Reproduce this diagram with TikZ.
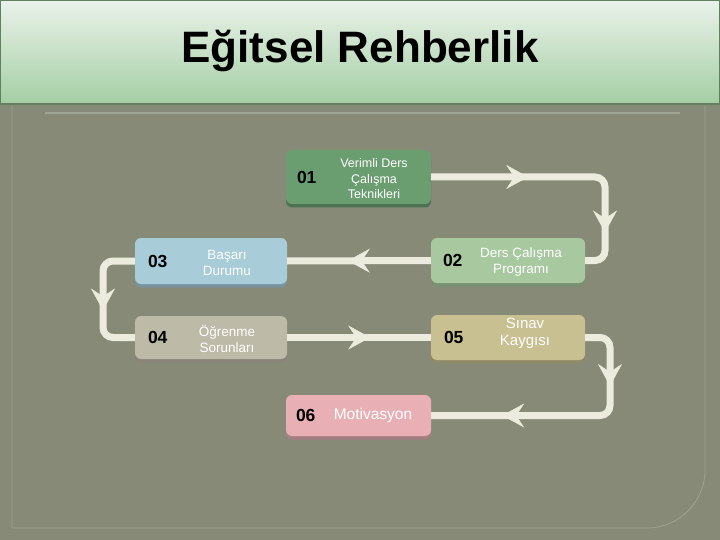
\documentclass[tikz,border=0pt]{standalone}
\usepackage{fontspec}
\setmainfont{Liberation Sans}
\usetikzlibrary{arrows.meta,positioning,shadows,decorations.markings}
\definecolor{slateolive}{RGB}{135,138,118}
\definecolor{frameline}{RGB}{158,163,146}
\definecolor{bandtop}{RGB}{234,242,234}
\definecolor{bandbot}{RGB}{164,206,164}
\definecolor{bandedge}{RGB}{96,128,96}
\definecolor{pathcream}{RGB}{236,236,222}
\definecolor{tilegreen}{RGB}{106,158,112}
\definecolor{tilemint}{RGB}{168,200,160}
\definecolor{tileblue}{RGB}{168,204,216}
\definecolor{tilestone}{RGB}{190,186,168}
\definecolor{tilekhaki}{RGB}{200,192,144}
\definecolor{tilepink}{RGB}{232,176,180}

\begin{document}
\begin{tikzpicture}[
 x=1pt,y=-1pt,
 chevtip/.tip={Stealth[length=22pt,width=24pt,inset=8pt,line width=0.5pt,color=pathcream]},
 tile/.style={rectangle,rounded corners=6pt,fill=#1,general shadow={fill=#1!72!black,shadow yshift=-3.5pt,rounded corners=6pt},inner sep=0pt},
 num/.style={font=\bfseries\fontsize{17.5}{17.5}\selectfont,text=black,inner sep=0pt},
 lbl/.style={font=\fontsize{13.5}{15.5}\selectfont,text=white,align=center,inner sep=0pt},
 flow/.style={draw=pathcream,line width=7pt,rounded corners=10pt},
 chev/.style={postaction={decorate,decoration={markings,mark=at position #1 with {\arrow{chevtip}}}}}
]
\useasboundingbox (0,0) rectangle (720,540);
\fill[slateolive] (0,0) rectangle (720,540);
% frame and title band
\draw[frameline,line width=0.8pt] (12,104) -- (12,528) -- (640,528) [rounded corners=58pt] -- (705,528) -- (705,104);
\draw[frameline,line width=1.2pt] (45,113) -- (680,113);
\shade[top color=bandtop,bottom color=bandbot,draw=bandedge,line width=1.5pt] (0,0) rectangle (720,104);
\node[font=\bfseries\fontsize{44}{44}\selectfont] (ttl) at (360,51) {Eğitsel Rehberlik};

% tiles
\foreach \i/\x/\y/\w/\h/\c in {1/358.5/177/145/54/tilegreen,2/508/260.5/154/45/tilemint,
  3/211/261/152/46/tileblue,4/211/337.5/152/43/tilestone,5/508/337.5/154/45/tilekhaki,
  6/358.5/415.5/145/41/tilepink}{
  \node[tile=\c,minimum width=\w pt,minimum height=\h pt] (n\i) at (\x,\y) {};
}

\node[num,right=11pt of n1.west] (k1) {01};
\node[num,right=12pt of n2.west] (k2) {02};
\node[num,right=13pt of n3.west] (k3) {03};
\node[num,right=13pt of n4.west] (k4) {04};
\node[num,right=13pt of n5.west] (k5) {05};
\node[num,right=10pt of n6.west] (k6) {06};

\node[lbl,font=\fontsize{12.5}{15.5}\selectfont] (t1) at (374,179) {Verimli Ders\\Çalışma\\Teknikleri};
\node[lbl] (t2) at (521,262) {Ders Çalışma\\Programı};
\node[lbl] (t3) at (227,263) {Başarı\\Durumu};
\node[lbl] (t4) at (227,339) {Öğrenme\\Sorunları};
\node[lbl,font=\fontsize{15}{17}\selectfont] (t5) at (525,333) {Sınav\\Kaygısı};
\node[lbl,font=\fontsize{15.5}{17}\selectfont] (t6) at (373,415) {Motivasyon};

% connectors
\coordinate (c1) at (605,177);
\coordinate (c2) at (103,261);
\coordinate (c3) at (610,337.5);
\draw[flow,chev=97pt,chev=225pt] (n1.east) -- (c1) |- (n2.east);
\draw[flow,chev=83pt] (n2.west) -- (n3.east);
\draw[flow,chev=77pt] (n3.west) -- (c2) |- (n4.west);
\draw[flow,chev=83pt] (n4.east) -- (n5.west);
\draw[flow,chev=69pt,chev=202pt] (n5.east) -- (c3) |- (n6.east);
\end{tikzpicture}
\end{document}
